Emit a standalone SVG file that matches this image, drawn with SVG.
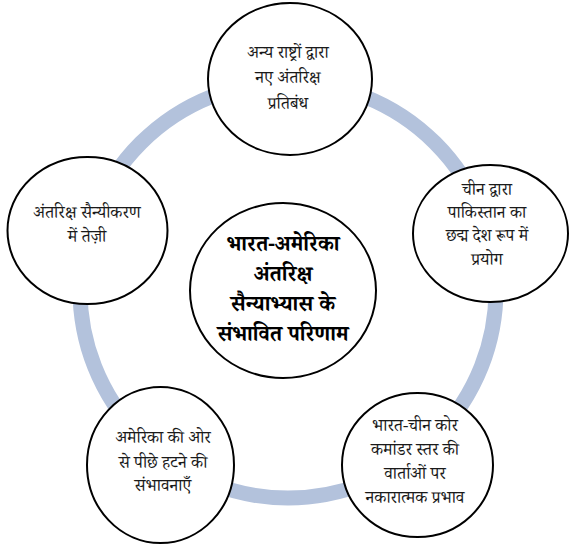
<svg xmlns="http://www.w3.org/2000/svg" width="575" height="550" viewBox="0 0 575 550">
<style>
.node{fill:#fff;stroke:#000;stroke-width:2}
.t{font-family:"Noto Serif Devanagari","Noto Sans Devanagari","Liberation Serif","Noto Sans",serif;font-size:17px;fill:#1a1a1a;text-anchor:middle;dominant-baseline:central}
.c{font-size:21.5px;font-weight:bold;fill:#000}
</style>
<rect width="575" height="550" fill="#fff"/>
<g id="connectors">
<circle cx="288" cy="290" r="208" fill="none" stroke="#B3C2DC" stroke-width="15"/>
</g>
<g id="center">
<ellipse class="node" cx="283" cy="290.5" rx="93" ry="87.5"/>
<text class="t c" x="283" y="247">भारत-अमेरिका</text>
<text class="t c" x="283" y="277">अंतरिक्ष</text>
<text class="t c" x="283" y="307">सैन्याभ्यास के</text>
<text class="t c" x="283" y="337">संभावित परिणाम</text>
</g>
<g id="top">
<ellipse class="node" cx="290" cy="79" rx="82" ry="76"/>
<text class="t" x="288" y="55">अन्य राष्ट्रों द्वारा</text>
<text class="t" x="288" y="80">नए अंतरिक्ष</text>
<text class="t" x="288" y="106">प्रतिबंध</text>
</g>
<g id="right">
<ellipse class="node" cx="490.5" cy="233.5" rx="77.5" ry="68.5"/>
<text class="t" x="487" y="192">चीन द्वारा</text>
<text class="t" x="487" y="215">पाकिस्तान का</text>
<text class="t" x="487" y="238">छद्म देश रूप में</text>
<text class="t" x="487" y="262">प्रयोग</text>
</g>
<g id="bottom-right">
<ellipse class="node" cx="417.5" cy="465" rx="75.5" ry="72"/>
<text class="t" x="415" y="428">भारत-चीन कोर</text>
<text class="t" x="415" y="452">कमांडर स्तर की</text>
<text class="t" x="415" y="476">वार्ताओं पर</text>
<text class="t" x="415" y="500">नकारात्मक प्रभाव</text>
</g>
<g id="bottom-left">
<ellipse class="node" cx="160.5" cy="465" rx="73.5" ry="78"/>
<text class="t" x="163" y="440">अमेरिका की ओर</text>
<text class="t" x="163" y="465">से पीछे हटने की</text>
<text class="t" x="163" y="488">संभावनाएँ</text>
</g>
<g id="left">
<ellipse class="node" cx="87.5" cy="230.5" rx="80" ry="73.5"/>
<text class="t" x="87" y="215">अंतरिक्ष सैन्यीकरण</text>
<text class="t" x="87" y="239">में तेज़ी</text>
</g>
</svg>
